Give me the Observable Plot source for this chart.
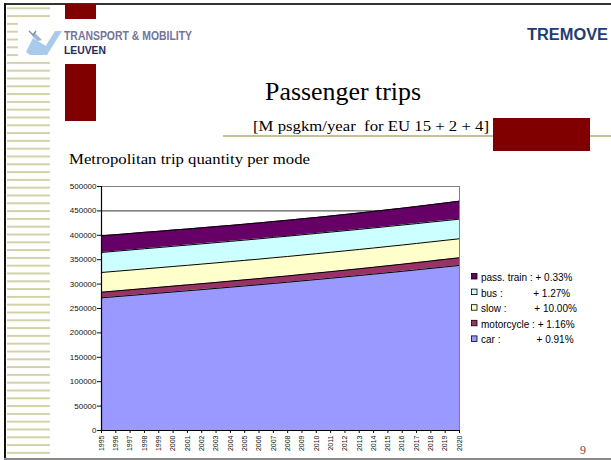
<!DOCTYPE html>
<html><head><meta charset="utf-8">
<script src="https://cdn.jsdelivr.net/npm/d3@7"></script>
<script src="https://cdn.jsdelivr.net/npm/@observablehq/plot@0.6"></script>
<style>
html,body{margin:0;padding:0;background:#fff;}
#slide{position:relative;width:611px;height:460px;overflow:hidden;background:#fff;}
#deco,#chart{position:absolute;left:0;top:0;}
#chart svg{display:block;}
</style></head><body>
<div id="slide"><svg id="deco" width="611" height="460"></svg><div id="chart"></div></div>
<script>
const years = [1995,1996,1997,1998,1999,2000,2001,2002,2003,2004,2005,2006,2007,2008,2009,2010,2011,2012,2013,2014,2015,2016,2017,2018,2019,2020];
const car = [271900,274300,276700,279100,281500,283900,286300,288700,291200,293700,296200,298700,301300,303900,306600,309300,312000,314800,317600,320400,323300,326200,329200,332200,335200,338200];
const motorcycle = [11500,11600,11700,11800,11900,12000,12100,12200,12300,12400,12500,12600,12800,12900,13100,13300,13500,13700,13900,14100,14400,14600,14900,15200,15500,15800];
const slow = [40400,40400,40300,40300,40200,40200,40100,40100,40000,40000,39900,39900,39900,39800,39800,39700,39700,39600,39500,39500,39400,39300,39200,39100,39000,38900];
const bus = [41000,41100,41200,41300,41300,41400,41400,41500,41500,41500,41600,41600,41600,41600,41500,41500,41400,41300,41200,41100,41000,40900,40700,40600,40400,40200];
const train = [34200,33900,33700,33500,33300,33200,33000,32900,32800,32700,32700,32600,32600,32600,32700,32800,33000,33200,33500,33800,34200,34600,35000,35500,36200,36900];
const modes = ["car","motorcycle","slow","bus","pass. train"];
const modeColors = ["#9999FF","#993366","#FFFFCC","#CCFFFF","#660066"];
const yTicks = [0,50000,100000,150000,200000,250000,300000,350000,400000,450000,500000];
const legendModes = ["pass. train","bus","slow","motorcycle","car"];
const legendLabels = ["pass. train : + 0.33%","bus :           + 1.27%","slow :          + 10.00%","motorcycle : + 1.16%","car :             + 0.91%"];
const titleText = "Passenger trips";
const subtitleText = "[M psgkm/year  for EU 15 + 2 + 4]";
const chartTitle = "Metropolitan trip quantity per mode";

const seriesByMode = [car, motorcycle, slow, bus, train];
const data = modes.flatMap((m, i) => years.map((y, j) => ({year: y, mode: m, value: seriesByMode[i][j]})));

const chart = Plot.plot({
  width: 611, height: 460,
  marginLeft: 101, marginRight: 152, marginTop: 186, marginBottom: 30,
  style: {background: "transparent", fontFamily: "'Liberation Sans', Arial, sans-serif", color: "#111"},
  x: {domain: [1995, 2020]},
  y: {domain: [0, 500000]},
  color: {domain: modes, range: modeColors},
  marks: [
    Plot.ruleY(yTicks, {stroke: "#000", strokeWidth: 0.8}),
    Plot.areaY(data, {x: "year", y: "value", fill: "mode", order: modes}),
    Plot.lineY(data, Plot.stackY2({x: "year", y: "value", z: "mode", order: modes, stroke: "#000", strokeWidth: 1})),
    Plot.frame({stroke: "#808080"}),
    Plot.ruleX([1995], {stroke: "#000", strokeWidth: 1.2}),
    Plot.ruleY([0], {stroke: "#000", strokeWidth: 1.2}),
    Plot.axisY({ticks: yTicks, tickFormat: d3.format("d"), tickSize: 4, tickPadding: 1, fontSize: 8, label: null}),
    Plot.axisX({ticks: years, tickFormat: d => String(d), tickRotate: -90, tickSize: 3, tickPadding: 2, fontSize: 7, label: null})
  ]
});
document.getElementById("chart").appendChild(chart);

// slide decoration
const deco = d3.select("#deco");
const defs = deco.append("defs");
const pat = defs.append("pattern").attr("id","st").attr("patternUnits","userSpaceOnUse")
  .attr("x",7).attr("y",7.3).attr("width",43).attr("height",7.8);
pat.append("rect").attr("width",43).attr("height",2).attr("fill","#D3D1A8");
deco.append("rect").attr("x",7).attr("y",6).attr("width",43).attr("height",452).attr("fill","url(#st)");
deco.append("rect").attr("x",18).attr("y",21).attr("width",180).attr("height",40).attr("fill","#fff");
deco.append("rect").attr("x",4).attr("y",3).attr("width",607).attr("height",2).attr("fill","#333");
deco.append("rect").attr("x",4).attr("y",3).attr("width",2).attr("height",457).attr("fill","#111");
deco.append("rect").attr("x",4).attr("y",458).attr("width",607).attr("height",2).attr("fill","#8a8a8a");
deco.append("rect").attr("x",223).attr("y",135).attr("width",388).attr("height",2).attr("fill","#C4C197");
[[65,4,31,15],[65,64,31,57],[493,118,97,33]].forEach(r =>
  deco.append("rect").attr("x",r[0]).attr("y",r[1]).attr("width",r[2]).attr("height",r[3]).attr("fill","#800000"));
// logo
deco.append("polygon").attr("points","26,52 33,38 46,46 42,55 30,55").attr("fill","#A9CBEB");
deco.append("polygon").attr("points","40,55 55,31 62,31 47,55").attr("fill","#A9CBEB");
deco.append("polygon").attr("points","32,36 35,33 42,40 38,41").attr("fill","#9FB7D6");
deco.append("path").attr("d","M29,31 L33,35 L36,31").attr("stroke","#7D8BA8").attr("stroke-width",1.4).attr("fill","none");
deco.append("text").attr("x",64).attr("y",40).attr("font-family","'Liberation Sans', Arial, sans-serif")
  .attr("font-size",13).attr("font-weight","bold").attr("fill","#74749A").attr("textLength",128).attr("lengthAdjust","spacingAndGlyphs").text("TRANSPORT & MOBILITY");
deco.append("text").attr("x",64).attr("y",53.5).attr("font-family","'Liberation Sans', Arial, sans-serif")
  .attr("font-size",11.5).attr("font-weight","bold").attr("fill","#2A2A58").attr("textLength",42).attr("lengthAdjust","spacingAndGlyphs").text("LEUVEN");
deco.append("text").attr("x",527).attr("y",40).attr("font-family","'Liberation Sans', Arial, sans-serif")
  .attr("font-size",16).attr("font-weight","bold").attr("fill","#1F3D73").attr("textLength",81).attr("lengthAdjust","spacingAndGlyphs").text("TREMOVE");
const serif = "'Liberation Serif', 'Times New Roman', serif";
deco.append("text").attr("x",265).attr("y",100).attr("font-family",serif).attr("font-size",26)
  .attr("textLength",156).attr("lengthAdjust","spacingAndGlyphs").text(titleText);
deco.append("text").attr("x",253).attr("y",131).attr("font-family",serif).attr("font-size",14).style("white-space","pre")
  .attr("textLength",236).attr("lengthAdjust","spacingAndGlyphs").text(subtitleText);
deco.append("text").attr("x",69).attr("y",164).attr("font-family",serif).attr("font-size",15)
  .attr("textLength",241).attr("lengthAdjust","spacingAndGlyphs").text(chartTitle);
deco.append("text").attr("x",580).attr("y",454).attr("font-family",serif).attr("font-size",12).attr("fill","#993333").text("9");
// legend
const colorOf = m => modeColors[modes.indexOf(m)];
legendModes.forEach((m, i) => {
  const by = 281 + i * 15.6;
  deco.append("rect").attr("x",471.5).attr("y",by - 7.5).attr("width",5.5).attr("height",5.5)
    .attr("fill",colorOf(m)).attr("stroke","#000").attr("stroke-width",0.8);
  deco.append("text").attr("x",481).attr("y",by).attr("font-family","'Liberation Sans', Arial, sans-serif")
    .attr("font-size",10).attr("fill","#000").style("white-space","pre").text(legendLabels[i]);
});
</script>
</body></html>
